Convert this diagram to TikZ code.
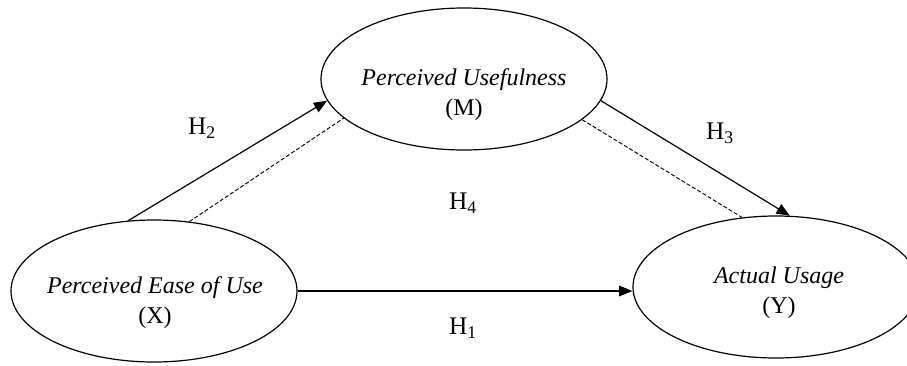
\documentclass[tikz,border=0pt]{standalone}
\usepackage{fontspec}
\setmainfont{Liberation Serif}
\usetikzlibrary{arrows.meta,shapes.geometric}
\begin{document}
\begin{tikzpicture}[x=0.75pt,y=-0.75pt,>={Triangle[length=10pt,width=8pt]}]
  \tikzstyle{var}=[draw,ellipse,line width=0.9pt,minimum width=214.5pt,minimum height=106.5pt,inner sep=0pt]
  \tikzstyle{vartext}=[align=center,font=\fontsize{18}{22.5}\selectfont]
  \tikzstyle{hyp}=[font=\fontsize{19}{23}\selectfont]
  \tikzstyle{direct}=[->,line width=0.9pt]
  \tikzstyle{indirect}=[line width=0.7pt,dash pattern=on 3pt off 1.6pt]
  \useasboundingbox (0,0) rectangle (907,365);
  \node[var] (x) at (154,291) {};
  \node[var] (m) at (464,79) {};
  \node[var] (y) at (776,287) {};
  \node[vartext] (xt) at (155,303) {\textit{Perceived Ease of Use}\\(X)};
  \node[vartext] (mt) at (464,95) {\textit{Perceived Usefulness}\\(M)};
  \node[vartext] (yt) at (779,293) {\textit{Actual Usage}\\(Y)};
  \draw[direct] (x.110.6) -- (m.189);
  \draw[indirect] (x.63.8) -- (m.198);
  \draw[direct] (m.-9.5) -- (y.79.1);
  \draw[indirect] (m.-19) -- (y.116.6);
  \draw[direct] (x.east) -- (x.east -| y.west);
  \node[hyp] (h1) at (463,328) {H\textsubscript{1}};
  \node[hyp] (h2) at (202,128) {H\textsubscript{2}};
  \node[hyp] (h3) at (720,133) {H\textsubscript{3}};
  \node[hyp] (h4) at (463,203) {H\textsubscript{4}};
\end{tikzpicture}
\end{document}
